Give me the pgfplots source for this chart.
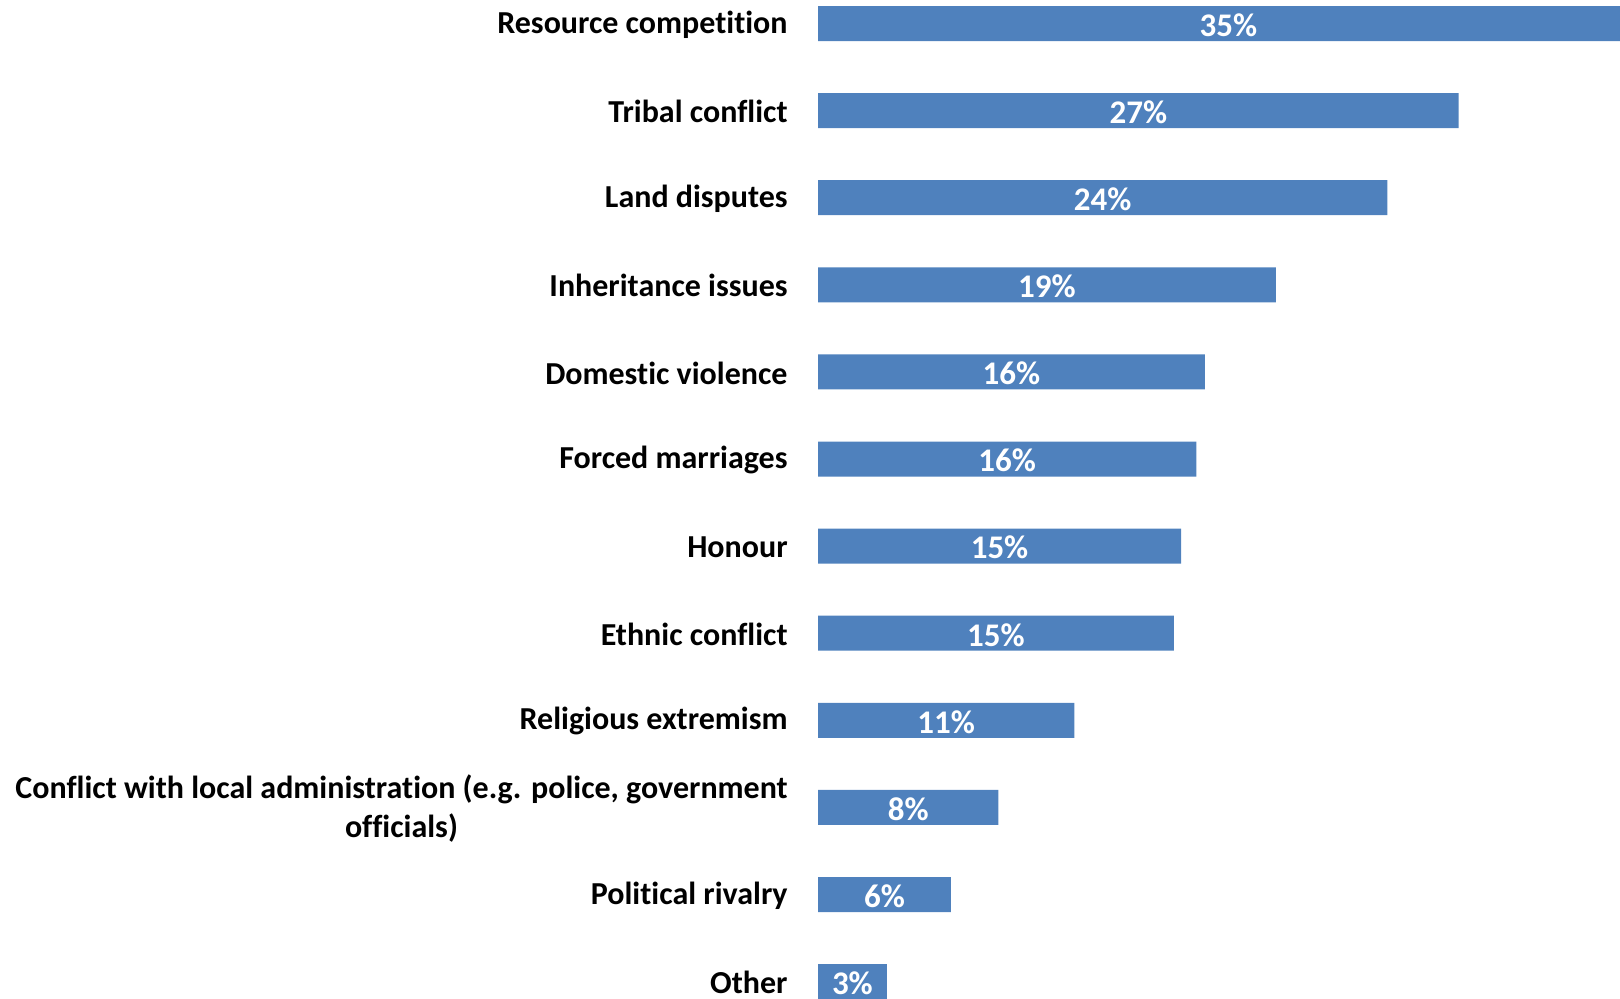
\documentclass[border=0pt]{standalone}
\usepackage{pgfplots}
\pgfplotsset{compat=1.18}
\usepackage{pgfplotstable}
\usepackage{fontspec}
\setmainfont{Carlito}[Ligatures={NoCommon}]
\definecolor{barblue}{RGB}{79,129,189}
\pgfplotstableread{
i v lab
0 34.6 35\%
1 27.0 27\%
2 24.0 24\%
3 19.3 19\%
4 16.3 16\%
5 15.95 16\%
6 15.3 15\%
7 15.0 15\%
8 10.8 11\%
9 7.6 8\%
10 5.6 6\%
11 2.9 3\%
}\data
\begin{document}
\begin{tikzpicture}
\begin{axis}[
  at={(409pt,0pt)}, anchor=south west,
  scale only axis, width=401pt, height=499pt,
  xmin=0, xmax=33.8,
  y dir=reverse, ymin=-0.2698, ymax=11.188,
  xtick=\empty,
  ytick={0,...,11},
  yticklabels={Resource competition, Tribal conflict, Land disputes, Inheritance issues, Domestic violence, Forced marriages, Honour, Ethnic conflict, Religious extremism, {Conflict with local administration (e.g. police, government\\officials)}, Political rivalry, Other},
  yticklabel style={font=\fontsize{16}{19.2}\selectfont\bfseries, align=center, inner sep=0pt, anchor=east, xshift=-15pt, yshift=-0.5pt},
  major tick length=0pt,
  axis line style={draw=none},
  clip=true,
]
\addplot[xbar, bar width=17.5pt, bar shift=0pt, fill=barblue, draw=none] table[x=v, y=i] {\data};
\addplot[draw=none, mark=none, nodes near coords, point meta=explicit symbolic,
  every node near coord/.style={anchor=center, inner sep=0pt, text=white, yshift=-0.8pt, font=\fontsize{16.5}{19}\selectfont\bfseries}]
  table[x expr=\thisrow{v}/2, y=i, meta=lab] {\data};
\end{axis}
\pgfresetboundingbox
\path[use as bounding box] (0,0) rectangle (810pt,499pt);
\end{tikzpicture}
\end{document}
